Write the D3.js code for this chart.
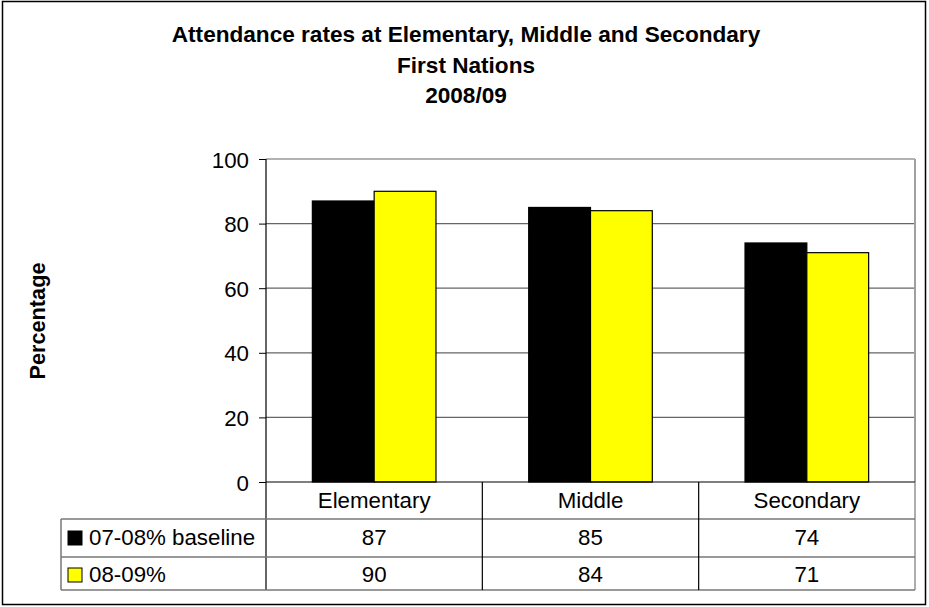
<!DOCTYPE html>
<html>
<head>
<meta charset="utf-8">
<script src="https://cdn.jsdelivr.net/npm/d3@7"></script>
<style>
  body { margin: 0; background: #fff; }
  text { font-family: "Liberation Sans", Arial, sans-serif; fill: #000; }
</style>
</head>
<body>
<div id="chart"></div>
<script>
const categories = ['Elementary', 'Middle', 'Secondary'];
const seriesNames = ['07-08% baseline', '08-09%'];
const baseline = [87, 85, 74];
const current = [90, 84, 71];
const yTicks = [0, 20, 40, 60, 80, 100];
const titleLines = ['Attendance rates at Elementary, Middle and Secondary', 'First Nations', '2008/09'];

const colors = ['#000000', '#ffff00'];
const seriesValues = [baseline, current];

const width = 929, height = 607;
const plot = {left: 266, right: 915, top: 159, bottom: 482};
const tableLeft = 61;
const rowLines = [482, 519, 557, 590];
const fs = '22.3px';

const svg = d3.select('#chart').append('svg')
  .attr('width', width)
  .attr('height', height);

// outer frame
svg.append('rect')
  .attr('x', 2.5).attr('y', 1.5)
  .attr('width', 923).attr('height', 603)
  .attr('fill', '#fff').attr('stroke', '#000').attr('stroke-width', 1.5);

// title
svg.append('g').selectAll('text')
  .data(titleLines)
  .enter().append('text')
    .attr('x', 466)
    .attr('y', (d, i) => 42 + i * 30.5)
    .attr('text-anchor', 'middle')
    .style('font-size', '22.6px')
    .style('font-weight', 'bold')
    .text(d => d);

const x = d3.scaleBand()
  .domain(categories)
  .range([plot.left, plot.right]);

const x1 = d3.scaleBand()
  .domain(seriesNames)
  .range([0, x.bandwidth()])
  .paddingOuter(0.75)
  .paddingInner(0);

const y = d3.scaleLinear()
  .domain([0, 100])
  .range([plot.bottom, plot.top]);

// gridlines
svg.append('g').selectAll('line')
  .data(yTicks.filter(d => d > 0))
  .enter().append('line')
    .attr('x1', plot.left).attr('x2', plot.right)
    .attr('y1', d => y(d)).attr('y2', d => y(d))
    .attr('stroke', '#666').attr('stroke-width', 1.2);

// plot area right border
svg.append('line')
  .attr('x1', plot.right).attr('x2', plot.right)
  .attr('y1', plot.top).attr('y2', plot.bottom)
  .attr('stroke', '#a0a0a0').attr('stroke-width', 2);

// bars
const groups = svg.append('g').selectAll('g')
  .data(seriesNames)
  .enter().append('g');

groups.selectAll('rect')
  .data((s, si) => categories.map((c, ci) => ({s, si, c, v: seriesValues[si][ci]})))
  .enter().append('rect')
    .attr('x', d => x(d.c) + x1(d.s))
    .attr('y', d => y(d.v))
    .attr('width', x1.bandwidth())
    .attr('height', d => y(0) - y(d.v))
    .attr('fill', d => colors[d.si])
    .attr('stroke', '#000')
    .attr('stroke-width', 1.2);

// y axis
const yAxis = d3.axisLeft(y)
  .tickValues(yTicks)
  .tickSize(7)
  .tickPadding(10);

const ya = svg.append('g')
  .attr('transform', `translate(${plot.left},0)`)
  .call(yAxis);
ya.select('.domain').remove();
ya.selectAll('line').attr('stroke', '#000');
ya.selectAll('text')
  .style('font-size', fs)
  .attr('font-family', null)
  .attr('dy', '0.36em');

svg.append('line')
  .attr('x1', plot.left).attr('x2', plot.left)
  .attr('y1', plot.top).attr('y2', rowLines[3])
  .attr('stroke', '#000').attr('stroke-width', 1.2);

// y label
svg.append('text')
  .attr('transform', 'translate(45,321) rotate(-90)')
  .attr('text-anchor', 'middle')
  .style('font-size', '21.7px')
  .style('font-weight', 'bold')
  .text('Percentage');

// data table
const table = svg.append('g');

// horizontal lines
table.append('line')
  .attr('x1', plot.left).attr('x2', plot.right)
  .attr('y1', rowLines[0]).attr('y2', rowLines[0])
  .attr('stroke', '#000').attr('stroke-width', 1.2);
table.selectAll('.hline')
  .data(rowLines.slice(1))
  .enter().append('line')
    .attr('class', 'hline')
    .attr('x1', tableLeft).attr('x2', plot.right)
    .attr('y1', d => d).attr('y2', d => d)
    .attr('stroke', '#777').attr('stroke-width', 1.5);

// vertical lines
table.selectAll('.vline')
  .data(categories.slice(1).concat([null]))
  .enter().append('line')
    .attr('class', 'vline')
    .attr('x1', d => d ? x(d) : plot.right)
    .attr('x2', d => d ? x(d) : plot.right)
    .attr('y1', rowLines[0]).attr('y2', rowLines[3])
    .attr('stroke', d => d ? '#000' : '#777')
    .attr('stroke-width', 1.2);
table.append('line')
  .attr('x1', tableLeft).attr('x2', tableLeft)
  .attr('y1', rowLines[1]).attr('y2', rowLines[3])
  .attr('stroke', '#777').attr('stroke-width', 1.5);

// category labels
table.selectAll('.cat')
  .data(categories)
  .enter().append('text')
    .attr('class', 'cat')
    .attr('x', d => x(d) + x.bandwidth() / 2)
    .attr('y', 508)
    .attr('text-anchor', 'middle')
    .style('font-size', fs)
    .text(d => d);

// value rows
const rowBase = [545, 582];
seriesNames.forEach((s, si) => {
  table.append('rect')
    .attr('x', 68).attr('y', rowBase[si] - 14)
    .attr('width', 14).attr('height', 14)
    .attr('fill', colors[si]).attr('stroke', '#000').attr('stroke-width', 1);
  table.append('text')
    .attr('x', 89).attr('y', rowBase[si])
    .style('font-size', fs)
    .text(s);
  table.selectAll('.v' + si)
    .data(categories)
    .enter().append('text')
      .attr('x', d => x(d) + x.bandwidth() / 2)
      .attr('y', rowBase[si])
      .attr('text-anchor', 'middle')
      .style('font-size', fs)
      .text((d, ci) => seriesValues[si][ci]);
});
</script>
</body>
</html>
